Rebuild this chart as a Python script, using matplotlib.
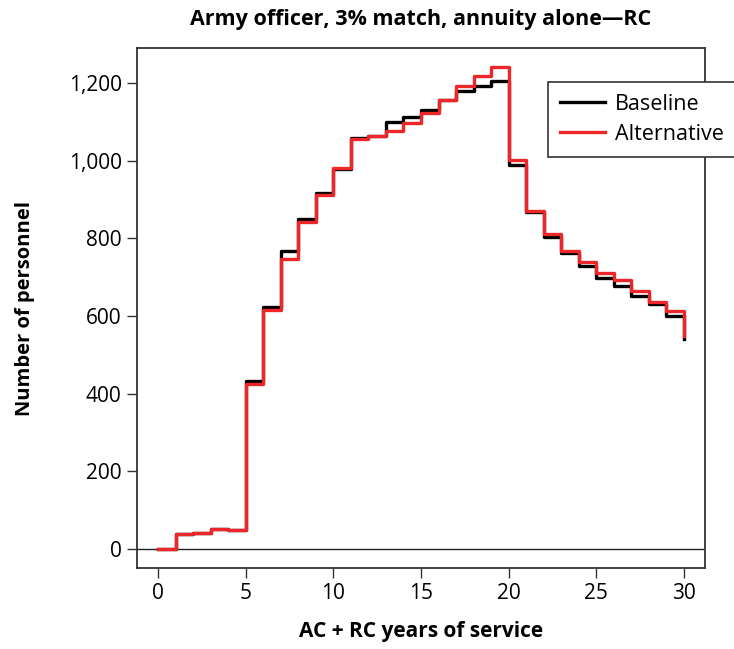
import numpy as np
import matplotlib.pyplot as plt
from matplotlib.ticker import FuncFormatter

plt.rcParams['font.family'] = ['Open Sans', 'DejaVu Sans']

# years of service (AC + RC)
years = [0, 1, 2, 3, 4, 5, 6, 7, 8, 9, 10, 11, 12, 13, 14, 15,
         16, 17, 18, 19, 20, 21, 22, 23, 24, 25, 26, 27, 28, 29, 30]
baseline = [0, 37, 41, 50, 48, 433, 624, 768, 849, 916, 980, 1058, 1065, 1100, 1113, 1131,
            1157, 1181, 1193, 1206, 988, 868, 804, 761, 730, 697, 678, 652, 631, 601, 541]
alternative = [0, 37, 41, 50, 48, 424, 616, 748, 843, 911, 981, 1055, 1065, 1077, 1097, 1123,
               1157, 1193, 1218, 1241, 1001, 870, 811, 768, 740, 711, 693, 665, 637, 614, 548]
yticks = [0, 200, 400, 600, 800, 1000, 1200]
xticks = [0, 5, 10, 15, 20, 25, 30]

W, H = 734, 649
fig = plt.figure(figsize=(W/100, H/100), dpi=100)
ax = fig.add_axes([137/W, 1-568/H, (705-137)/W, (568-48)/H])

ax.axhline(0, color='#222222', lw=1.0, zorder=1)
ax.step(years, baseline, where='post', color='black', lw=2.4, label='Baseline', zorder=2)
ax.step(years, alternative, where='post', color='#ec2629', lw=2.4, label='Alternative', zorder=3)

ax.set_xlim(-1.2, 31.2)
ax.set_ylim(-49.6, 1290.6)
ax.set_xticks(xticks)
ax.set_yticks(yticks)
ax.yaxis.set_major_formatter(FuncFormatter(lambda v, p: '{:,.0f}'.format(v)))
ax.tick_params(direction='out', length=7, width=1.0, color='#333333', labelsize=15, pad=4)
for s in ax.spines.values():
    s.set_color('#333333')
    s.set_linewidth(1.3)

ax.set_xlabel('AC + RC years of service', fontsize=15, fontweight='bold', labelpad=12)
ax.set_ylabel('Number of personnel', fontsize=14.5, fontweight='bold', labelpad=24)
fig.text(0.5*(137+705)/W, 1-20/H, 'Army officer, 3% match, annuity alone\u2014RC',
         ha='center', va='center', fontsize=15.5, fontweight='bold')

leg = ax.legend(loc='upper left', bbox_to_anchor=(548/W, 1-82/H), bbox_transform=fig.transFigure,
                fancybox=False, edgecolor='#333333', framealpha=1, fontsize=15.5,
                handlelength=2.1, handletextpad=0.45, borderpad=0.55, borderaxespad=0,
                labelspacing=0.42)
leg.get_frame().set_linewidth(1.2)

fig.savefig('out.png', dpi=100)
